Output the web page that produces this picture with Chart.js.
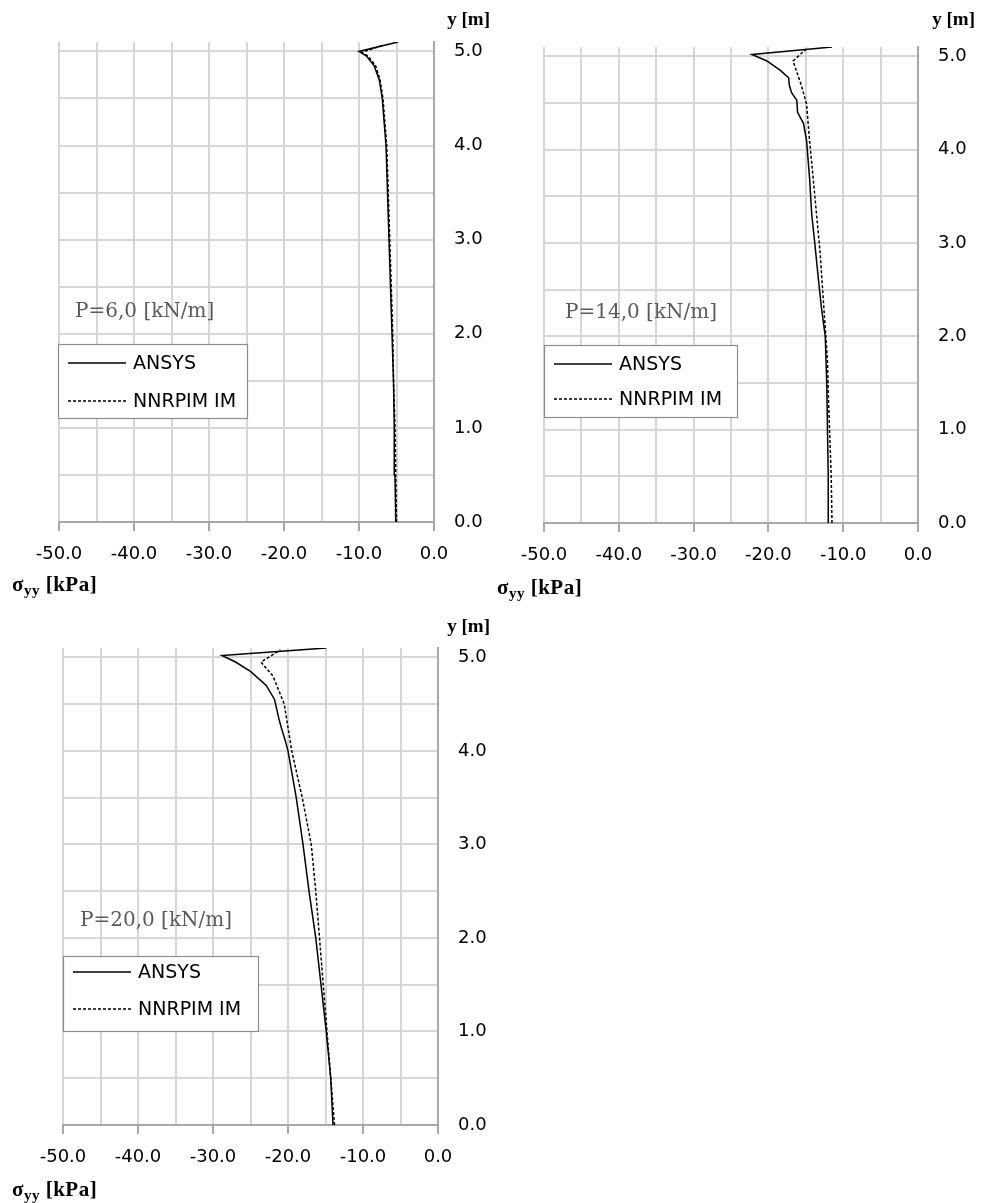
<!DOCTYPE html>
<html>
<head>
<meta charset="utf-8">
<script src="https://cdn.jsdelivr.net/npm/chart.js@4/dist/chart.umd.min.js"></script>
<style>
  body { margin: 0; background: #fff; }
  #page { position: relative; width: 984px; height: 1203px; overflow: hidden; }
  canvas { position: absolute; }
  .ttl { position: absolute; font-family: 'Liberation Serif', serif; font-weight: bold; font-size: 19px; color: #000; white-space: nowrap; line-height: 1; }
  .ttl.sig { font-size: 21px; letter-spacing: 0.5px; }
  .ttl sub { font-size: 15px; vertical-align: -4px; line-height: 0; }
</style>
</head>
<body>
<div id="page">
  <canvas id="cA" width="492" height="600" style="left:0;top:0"></canvas>
  <canvas id="cB" width="492" height="600" style="left:492px;top:0"></canvas>
  <canvas id="cC" width="492" height="603" style="left:0;top:600px"></canvas>

  <div class="ttl" style="right:494px;top:9px">y [m]</div>
  <div class="ttl" style="right:9px;top:9px">y [m]</div>
  <div class="ttl" style="right:494px;top:616px">y [m]</div>
  <div class="ttl sig" style="left:12px;top:574px">σ<sub>yy</sub> [kPa]</div>
  <div class="ttl sig" style="left:497px;top:577px">σ<sub>yy</sub> [kPa]</div>
  <div class="ttl sig" style="left:12px;top:1179px">σ<sub>yy</sub> [kPa]</div>
</div>
<script>
// axis ticks
const xTicks = [-50, -40, -30, -20, -10, 0];
const yTicks = [0, 1, 2, 3, 4, 5];
const seriesNames = ['ANSYS', 'NNRPIM IM'];

// P = 6,0 kN/m
const depthA_ansys = [0, 0.5, 1.0, 1.5, 2.0, 2.5, 3.0, 3.5, 4.0, 4.2, 4.5, 4.7, 4.85, 4.95, 5.0, 5.1];
const stressA_ansys = [-5.1, -5.2, -5.3, -5.4, -5.6, -5.8, -6.0, -6.2, -6.4, -6.6, -6.9, -7.3, -8.0, -9.0, -10.0, -4.8];
const depthA_nnrpim = [0, 0.5, 1.0, 1.5, 2.0, 2.5, 3.0, 3.5, 4.0, 4.2, 4.5, 4.7, 4.85, 4.95, 4.99, 5.06];
const stressA_nnrpim = [-5.0, -5.1, -5.2, -5.4, -5.5, -5.7, -5.9, -6.1, -6.3, -6.5, -6.8, -7.2, -7.8, -8.8, -9.6, -7.0];

// P = 14,0 kN/m
const depthB_ansys = [0, 0.5, 1.0, 1.5, 2.0, 2.3, 2.6, 3.0, 3.3, 3.7, 4.1, 4.28, 4.4, 4.53, 4.61, 4.69, 4.77, 4.85, 4.95, 5.02, 5.1];
const stressB_ansys = [-12.0, -12.0, -12.1, -12.2, -12.4, -12.9, -13.3, -13.8, -14.2, -14.5, -14.9, -15.3, -16.1, -16.2, -16.9, -17.2, -17.3, -18.4, -20.2, -22.2, -11.5];
const depthB_nnrpim = [0, 0.5, 0.94, 1.4, 1.73, 2.32, 2.91, 3.51, 4.1, 4.49, 4.69, 4.95, 5.08];
const stressB_nnrpim = [-11.5, -11.6, -11.8, -12.0, -12.1, -12.6, -13.1, -13.8, -14.5, -14.9, -15.6, -16.7, -14.9];

// P = 20,0 kN/m
const depthC_ansys = [0, 0.5, 1.0, 1.5, 2.0, 2.5, 3.0, 3.5, 4.0, 4.12, 4.25, 4.34, 4.55, 4.7, 4.85, 4.95, 5.02, 5.1];
const stressC_ansys = [-14.0, -14.3, -14.9, -15.6, -16.3, -17.2, -18.0, -18.9, -20.0, -20.4, -20.9, -21.2, -21.8, -22.9, -25.0, -27.0, -28.8, -14.9];
const depthC_nnrpim = [0, 0.5, 1.0, 1.5, 2.0, 2.5, 3.0, 3.5, 4.0, 4.5, 4.8, 4.95, 5.08];
const stressC_nnrpim = [-13.8, -14.3, -14.8, -15.3, -15.8, -16.3, -16.9, -18.1, -19.5, -20.5, -22.0, -23.6, -21.0];

const overlayPlugin = {
    id: 'overlay',
    afterDraw(chart, args, opts) {
        const ctx = chart.ctx;
        ctx.save();
        ctx.font = '20px "DejaVu Serif"';
        ctx.fillStyle = '#5a5a5a';
        ctx.textBaseline = 'alphabetic';
        ctx.fillText(opts.note, opts.noteX, opts.noteY);

        const b = opts.box;
        ctx.fillStyle = '#fff';
        ctx.fillRect(b.x, b.y, b.w, b.h);
        ctx.strokeStyle = '#8c8c8c';
        ctx.lineWidth = 1.2;
        ctx.strokeRect(b.x + 0.5, b.y + 0.5, b.w, b.h);

        chart.data.datasets.forEach((ds, i) => {
            const yy = b.y + b.rows[i];
            ctx.setLineDash(ds.borderDash || []);
            ctx.strokeStyle = ds.borderColor;
            ctx.lineWidth = ds.borderWidth;
            ctx.beginPath();
            ctx.moveTo(b.x + 10, yy);
            ctx.lineTo(b.x + 68, yy);
            ctx.stroke();
            ctx.setLineDash([]);
            ctx.fillStyle = '#000';
            ctx.font = '19px "DejaVu Sans"';
            ctx.textBaseline = 'middle';
            ctx.fillText(ds.label, b.x + 75, yy + 1);
        });
        ctx.restore();
    }
};

function toPoints(depth, stress) {
    return depth.map((d, i) => ({ x: stress[i], y: d }));
}

function makeChart(id, ansys, nnrpim, L) {
    const tickFont = { family: 'DejaVu Sans', size: 18 };
    return new Chart(document.getElementById(id), {
        type: 'scatter',
        data: {
            datasets: [
                { label: seriesNames[0], data: ansys, showLine: true, pointRadius: 0, borderColor: '#000', borderWidth: 1.5, borderDash: [] },
                { label: seriesNames[1], data: nnrpim, showLine: true, pointRadius: 0, borderColor: '#000', borderWidth: 1.5, borderDash: [3, 2] }
            ]
        },
        options: {
            responsive: false,
            animation: false,
            events: [],
            layout: { padding: { left: L.left, top: L.top, right: 0, bottom: L.padBottom } },
            plugins: {
                legend: { display: false },
                tooltip: { enabled: false },
                overlay: L.overlay
            },
            scales: {
                x: {
                    type: 'linear', min: -50, max: 0,
                    ticks: {
                        stepSize: 5, autoSkip: false, maxRotation: 0, color: '#000', font: tickFont, padding: 13,
                        callback: v => xTicks.includes(v) ? v.toFixed(1) : ''
                    },
                    grid: {
                        color: '#d6d6d6', lineWidth: 2, tickLength: 9, tickWidth: 2,
                        tickColor: c => (c.tick && xTicks.includes(c.tick.value)) ? '#a8a8a8' : 'rgba(0,0,0,0)'
                    },
                    border: { color: '#a8a8a8', width: 2 },
                    afterFit: s => { s.height = 45; }
                },
                y: {
                    type: 'linear', position: 'right', min: 0, max: 5.1,
                    ticks: {
                        stepSize: 0.5, includeBounds: false, autoSkip: false, color: '#000', font: tickFont, padding: 20,
                        callback: v => yTicks.some(t => Math.abs(t - v) < 1e-6) ? v.toFixed(1) : ''
                    },
                    grid: { color: '#d6d6d6', lineWidth: 2, drawTicks: false },
                    border: { color: '#a8a8a8', width: 2 },
                    afterFit: s => { s.width = L.yWidth; }
                }
            }
        },
        plugins: [overlayPlugin]
    });
}

makeChart('cA', toPoints(depthA_ansys, stressA_ansys), toPoints(depthA_nnrpim, stressA_nnrpim), {
    left: 59, top: 42, yWidth: 58, padBottom: 33,
    overlay: { note: 'P=6,0 [kN/m]', noteX: 75, noteY: 317, box: { x: 58, y: 344, w: 189, h: 74, rows: [19, 57] } }
});
makeChart('cB', toPoints(depthB_ansys, stressB_ansys), toPoints(depthB_nnrpim, stressB_nnrpim), {
    left: 52, top: 47, yWidth: 66, padBottom: 32,
    overlay: { note: 'P=14,0 [kN/m]', noteX: 73, noteY: 318, box: { x: 52, y: 345, w: 193, h: 72, rows: [19, 54] } }
});
makeChart('cC', toPoints(depthC_ansys, stressC_ansys), toPoints(depthC_nnrpim, stressC_nnrpim), {
    left: 63, top: 48, yWidth: 54, padBottom: 33,
    overlay: { note: 'P=20,0 [kN/m]', noteX: 80, noteY: 326, box: { x: 63, y: 356, w: 195, h: 75, rows: [16, 53] } }
});
</script>
</body>
</html>
